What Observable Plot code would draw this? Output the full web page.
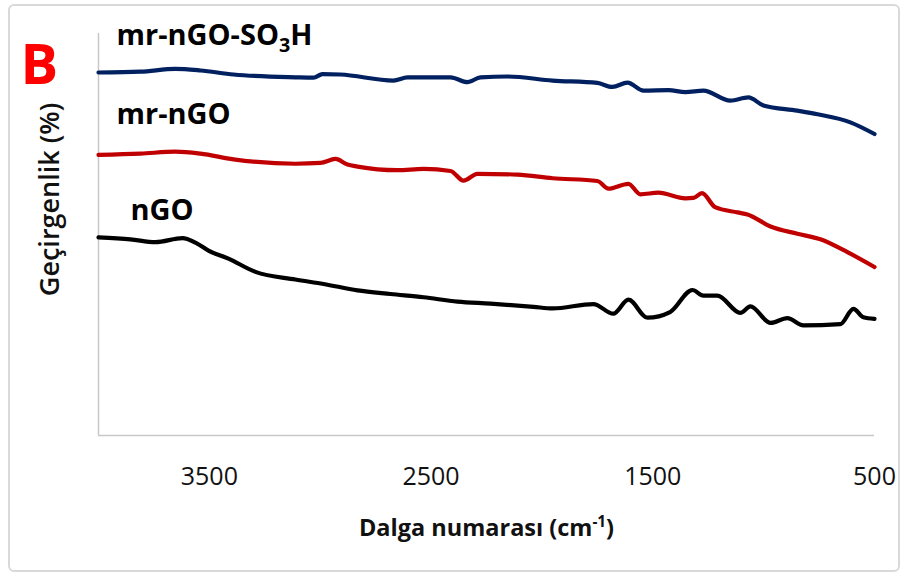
<!DOCTYPE html>
<html><head><meta charset="utf-8">
<script src="https://cdn.jsdelivr.net/npm/d3@7"></script>
<script src="https://cdn.jsdelivr.net/npm/@observablehq/plot@0.6"></script>
<style>
body{margin:0;background:#fff;}
#wrap{position:relative;width:904px;height:576px;overflow:hidden;}
#frame{position:absolute;left:8px;top:4px;width:888px;height:564px;border:2px solid #d9d9d9;border-radius:6px;pointer-events:none;}
</style></head><body><div id="wrap"><div id="frame"></div></div>
<script>
// Series names (labels drawn next to each curve)
const seriesNames = ["mr-nGO-SO3H", "mr-nGO", "nGO"];
const panelLetter = "B";
const xTitle = "Dalga numarası (cm-1)";
const yTitle = "Geçirgenlik (%)";
const xTicks = [3500, 2500, 1500, 500];

// mr-nGO-SO3H (blue)
const sulfWn = [4000,3811,3653,3540,3391,3112,3030,2990,2909,2670,2606,2412,2336,2277,2155,1952,1750,1682,1614,1542,1429,1353,1272,1150,1069,1001,848,757,609,500];
const sulfT  = [90.3,90.5,91.2,90.8,89.8,89.1,89.0,89.9,89.8,88.3,89.1,89.1,87.9,89.1,89.3,88.3,87.7,86.7,87.8,85.8,85.9,85.4,85.8,83.3,84.1,82.1,80.8,79.9,77.9,75.0];

// mr-nGO (red)
const mrWn = [4000,3811,3653,3540,3391,3112,2999,2931,2877,2832,2652,2534,2412,2354,2291,2110,1952,1750,1700,1610,1556,1475,1353,1317,1278,1219,1118,1073,969,848,744,622,500];
const mrT  = [69.8,70.1,70.6,70.1,68.7,67.6,67.8,68.8,67.4,66.9,66.0,66.3,65.8,63.4,65.1,64.9,64.0,63.3,61.4,62.6,60.0,60.4,59.0,59.1,60.3,56.8,55.5,55.0,52.0,50.2,48.8,45.6,41.9];

// nGO (black)
const ngoWn = [4000,3856,3743,3621,3563,3504,3414,3292,3112,2985,2832,2683,2534,2381,2232,2038,1952,1768,1678,1610,1524,1422,1321,1272,1209,1105,1060,969,893,821,654,595,550,500];
const ngoT  = [49.3,48.8,48.1,49.1,48.0,46.0,44.0,40.7,38.8,37.7,36.1,35.2,34.4,33.3,32.8,32.0,31.6,32.7,30.3,33.8,29.3,30.7,36.2,34.8,34.8,30.5,32.1,28.0,29.2,27.4,27.7,31.5,29.4,29.0];

const seriesWn = [sulfWn, mrWn, ngoWn];
const seriesT = [sulfT, mrT, ngoT];
const colors = ["#002060", "#c00000", "#000000"];

const rows = [];
seriesNames.forEach((name, i) => {
  seriesWn[i].forEach((w, j) => rows.push({series: name, wn: w, t: seriesT[i][j]}));
});

const labelOffsets = [{dx: 18, dy: -27}, {dx: 18, dy: -31}, {dx: 32, dy: -17}];
const labelMarks = seriesNames.map((name, i) =>
  Plot.text([{series: name, wn: seriesWn[i][0], t: seriesT[i][0]}], {
    x: "wn", y: "t", text: "series", textAnchor: "start", lineAnchor: "bottom",
    dx: labelOffsets[i].dx, dy: labelOffsets[i].dy,
    fontSize: 29, fontWeight: 700, fill: "#000"
  })
);

const chart = Plot.plot({
  width: 904, height: 576,
  marginLeft: 98, marginRight: 30, marginTop: 33, marginBottom: 141,
  style: {fontFamily: "'Open Sans', sans-serif", background: "white", color: "#111"},
  x: {domain: [4000, 500]},
  y: {domain: [0, 100], axis: null},
  color: {domain: seriesNames, range: colors},
  marks: [
    Plot.ruleY([0], {stroke: "#c8c8c8", strokeWidth: 1.5}),
    Plot.ruleX([4000], {stroke: "#c8c8c8", strokeWidth: 1.5}),
    Plot.axisX({ticks: xTicks, tickSize: 0, tickPadding: 32, fontSize: 25, tickFormat: "d", label: null}),
    Plot.line(rows, {x: "wn", y: "t", z: "series", stroke: "series", strokeWidth: 4.2, curve: "monotone-x", strokeLinejoin: "round", strokeLinecap: "round"}),
    ...labelMarks,
    Plot.text([yTitle], {text: d => d, frameAnchor: "left", textAnchor: "middle", lineAnchor: "middle", rotate: -90, dx: -48, dy: -35, fontSize: 27, fontWeight: 600, fill: "#111"}),
    Plot.text([xTitle], {text: d => d, frameAnchor: "bottom", textAnchor: "middle", lineAnchor: "bottom", dy: 100, fontSize: 23.5, fontWeight: 700, fill: "#111"}),
    Plot.text([panelLetter], {text: d => d, frameAnchor: "top-left", textAnchor: "start", lineAnchor: "bottom", dx: -78, dy: 50, fontSize: 56, fontWeight: 700, fill: "#ff0000"})
  ]
});

// sub/superscripts
d3.select(chart).selectAll("text").each(function() {
  const s = d3.select(this);
  const t = this.textContent;
  if (t === "mr-nGO-SO3H") {
    s.text(null);
    s.append("tspan").text("mr-nGO-SO");
    s.append("tspan").attr("dy", 7).attr("font-size", "0.68em").text("3");
    s.append("tspan").attr("dy", -7).text("H");
  } else if (t === xTitle) {
    s.text(null);
    s.append("tspan").text("Dalga numarası (cm");
    s.append("tspan").attr("dy", -9).attr("font-size", "0.65em").text("-1");
    s.append("tspan").attr("dy", 9).text(")");
  }
});

document.getElementById("wrap").prepend(chart);
</script>
</body></html>
